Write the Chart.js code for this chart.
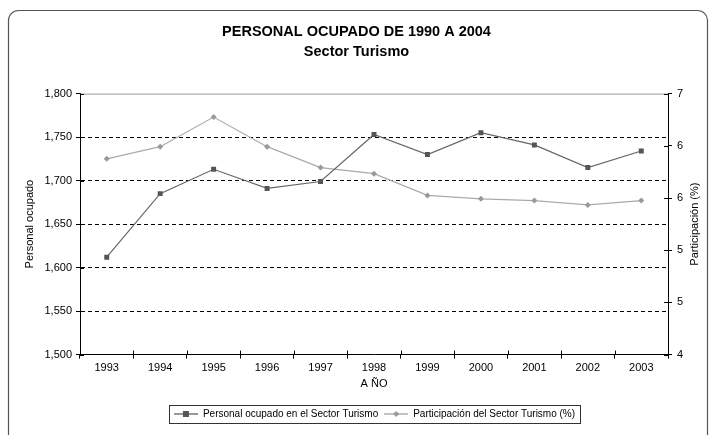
<!DOCTYPE html>
<html>
<head>
<meta charset="utf-8">
<script src="https://cdn.jsdelivr.net/npm/chart.js@4/dist/chart.umd.min.js"></script>
<style>
  html, body { margin: 0; padding: 0; background: #fff; }
</style>
</head>
<body>
<canvas id="chart" width="709" height="435"></canvas>
<script>
const years = ['1993', '1994', '1995', '1996', '1997', '1998', '1999', '2000', '2001', '2002', '2003'];
const personalOcupado = [1612, 1685, 1713, 1691, 1699, 1753, 1730, 1755, 1741, 1715, 1734];
const participacion = [6.25, 6.39, 6.73, 6.39, 6.15, 6.08, 5.83, 5.79, 5.77, 5.72, 5.77];
const titleLines = ['PERSONAL OCUPADO DE 1990 A 2004', 'Sector Turismo'];
const seriesNames = ['Personal ocupado en el Sector Turismo', 'Participación del Sector Turismo (%)'];
const rightTitle = 'Participación (%)';

const SANS = "'Liberation Sans', Arial, sans-serif";

function legendMark(color, style) {
  const c = document.createElement('canvas');
  c.width = 24; c.height = 8;
  const g = c.getContext('2d');
  g.strokeStyle = color; g.lineWidth = 1.2;
  g.beginPath(); g.moveTo(0, 4); g.lineTo(24, 4); g.stroke();
  g.fillStyle = color;
  if (style === 'rect') {
    g.fillRect(9, 1, 6, 6);
  } else {
    g.beginPath(); g.moveTo(12, 1); g.lineTo(15, 4); g.lineTo(12, 7); g.lineTo(9, 4); g.closePath(); g.fill();
  }
  return c;
}

// frame, top border, cross ticks, right title and legend box
const decor = {
  id: 'decor',
  afterLayout(chart) {
    chart.legend.left += 18;
    chart.legend.right += 18;
  },
  beforeDraw(chart) {
    const ctx = chart.ctx;
    ctx.save();
    ctx.strokeStyle = '#555';
    ctx.lineWidth = 1.2;
    ctx.beginPath();
    ctx.roundRect(8.5, 10.5, 699, 440, 10);
    ctx.stroke();
    ctx.restore();
  },
  afterDraw(chart) {
    const ctx = chart.ctx;
    const a = chart.chartArea;
    ctx.save();
    ctx.strokeStyle = '#999';
    ctx.lineWidth = 1;
    ctx.beginPath();
    ctx.moveTo(a.left, a.top + 0.5); ctx.lineTo(a.right, a.top + 0.5);
    ctx.stroke();
    ctx.strokeStyle = '#000';
    ctx.beginPath();
    const y = chart.scales.y, y2 = chart.scales.y2, x = chart.scales.x;
    y.ticks.forEach(t => {
      const p = Math.round(y.getPixelForValue(t.value)) + 0.5;
      ctx.moveTo(a.left, p); ctx.lineTo(a.left + 4, p);
    });
    y2.ticks.forEach(t => {
      const p = Math.round(y2.getPixelForValue(t.value)) + 0.5;
      ctx.moveTo(a.right, p); ctx.lineTo(a.right - 4, p);
    });
    for (let i = 0; i <= years.length; i++) {
      const p = Math.round(x.getPixelForValue(i - 0.5)) + 0.5;
      ctx.moveTo(p, a.bottom); ctx.lineTo(p, a.bottom - 4);
    }
    ctx.stroke();

    // right axis title reads bottom to top
    ctx.fillStyle = '#000';
    ctx.font = '11px ' + SANS;
    ctx.textAlign = 'center';
    ctx.textBaseline = 'middle';
    ctx.translate(695, (a.top + a.bottom) / 2);
    ctx.rotate(-Math.PI / 2);
    ctx.fillText(rightTitle, 0, 0);
    ctx.setTransform(1, 0, 0, 1, 0, 0);

    const boxes = chart.legend.legendHitBoxes;
    if (boxes && boxes.length) {
      const l = Math.min(...boxes.map(b => b.left)) - 5;
      const r = Math.max(...boxes.map(b => b.left + b.width)) + 5;
      const t = boxes[0].top - 4;
      const h = boxes[0].height + 8;
      ctx.strokeStyle = '#333';
      ctx.lineWidth = 1;
      ctx.strokeRect(Math.round(l) + 0.5, Math.round(t) + 0.5, Math.round(r - l), Math.round(h));
    }
    ctx.restore();
  }
};

const marks = [legendMark('#555', 'rect'), legendMark('#999', 'diamond')];

new Chart(document.getElementById('chart'), {
  type: 'line',
  data: {
    labels: years,
    datasets: [
      {
        label: seriesNames[0],
        data: personalOcupado,
        yAxisID: 'y',
        borderColor: '#666',
        backgroundColor: '#555',
        borderWidth: 1.2,
        pointStyle: 'rect',
        pointRadius: 3.5,
        pointBorderWidth: 0
      },
      {
        label: seriesNames[1],
        data: participacion,
        yAxisID: 'y2',
        borderColor: '#aaa',
        backgroundColor: '#999',
        borderWidth: 1.2,
        pointStyle: 'rectRot',
        pointRadius: 3,
        pointBorderWidth: 0
      }
    ]
  },
  options: {
    responsive: false,
    animation: false,
    layout: { padding: { left: 14, right: 10, top: 18, bottom: 6 } },
    plugins: {
      title: {
        display: true,
        text: titleLines,
        color: '#000',
        font: { family: SANS, size: 14.5, weight: 'bold', lineHeight: 1.4 },
        padding: { top: 4, bottom: 31 }
      },
      legend: {
        display: true,
        position: 'bottom',
        labels: {
          color: '#000',
          font: { family: SANS, size: 10 },
          usePointStyle: true,
          pointStyleWidth: 24,
          padding: 6,
          boxHeight: 8,
          generateLabels(chart) {
            const items = Chart.defaults.plugins.legend.labels.generateLabels(chart);
            items.forEach((it, i) => { it.pointStyle = marks[i]; });
            return items;
          }
        }
      },
      tooltip: { enabled: false }
    },
    scales: {
      x: {
        offset: true,
        grid: { offset: true, drawOnChartArea: false, tickLength: 4, tickColor: '#000', color: '#000' },
        border: { color: '#000', width: 1 },
        ticks: { color: '#000', font: { family: SANS, size: 11 }, maxRotation: 0, padding: 3 },
        title: { display: true, text: 'A ÑO', color: '#000', font: { family: SANS, size: 11 }, padding: { top: 0, bottom: 12 } }
      },
      y: {
        position: 'left',
        min: 1500,
        max: 1800,
        afterFit: s => { s.width = 66; },
        ticks: {
          stepSize: 50,
          color: '#000',
          font: { family: SANS, size: 11 },
          padding: 4,
          callback: v => v.toLocaleString('en-US')
        },
        grid: {
          color: c => (c.tick && (c.tick.value === 1500 || c.tick.value === 1800)) ? 'rgba(0,0,0,0)' : '#000',
          tickColor: '#000',
          tickLength: 4,
          tickBorderDash: []
        },
        border: { color: '#000', width: 1, dash: [4, 3] },
        title: { display: true, text: 'Personal ocupado', color: '#000', font: { family: SANS, size: 11 }, padding: { top: 9, bottom: 0 } }
      },
      y2: {
        position: 'right',
        min: 4,
        max: 7,
        afterFit: s => { s.width = 31; },
        ticks: {
          stepSize: 0.6,
          color: '#000',
          font: { family: SANS, size: 11 },
          padding: 5,
          callback: v => Math.round(v).toString()
        },
        grid: { drawOnChartArea: false, tickColor: '#000', tickLength: 4 },
        border: { color: '#000', width: 1 },
        title: { display: false }
      }
    }
  },
  plugins: [decor]
});
</script>
</body>
</html>
